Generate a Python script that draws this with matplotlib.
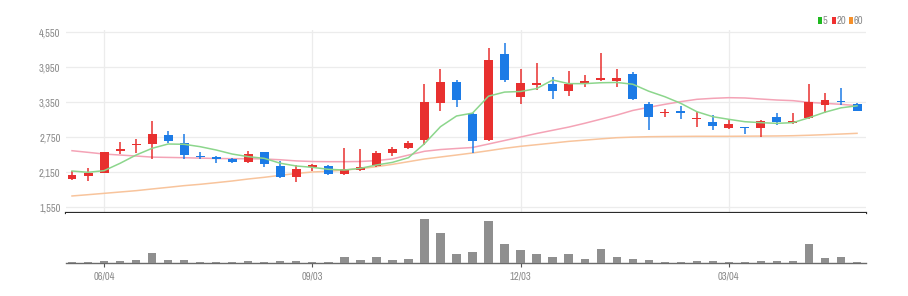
import matplotlib
matplotlib.use("Agg")
import matplotlib.pyplot as plt
from matplotlib.patches import Rectangle
from matplotlib import font_manager

# ---- data (weekly candles) ----
opens = [2035, 2087, 2138, 2515, 2607, 2625, 2789, 2652, 2424, 2402,
         2378, 2321, 2487, 2253, 2070, 2236, 2253, 2116, 2184, 2253,
         2470, 2561, 2698, 3328, 3688, 3144, 2698, 4173, 3441, 3636,
         3653, 3544, 3659, 3727, 3715, 3824, 3310, 3156, 3196, 3059,
         3012, 2904, 2927, 2904, 3088, 2990, 3081, 3299, 3373, 3316]
highs = [2162, 2213, 2500, 2659, 2721, 3029, 2853, 2806, 2493, 2424,
         2390, 2510, 2498, 2344, 2270, 2287, 2270, 2561, 2550, 2510,
         2584, 2681, 3658, 3916, 3727, 3156, 4270, 4356, 3910, 4013,
         3773, 3886, 3807, 4196, 3921, 3864, 3356, 3224, 3281, 3179,
         3127, 3059, 2927, 3041, 3156, 3156, 3658, 3509, 3584, 3339]
lows = [2013, 1996, 2130, 2453, 2470, 2368, 2652, 2368, 2368, 2299,
        2299, 2304, 2241, 2042, 1984, 2162, 2099, 2104, 2173, 2241,
        2424, 2539, 2613, 3196, 3259, 2481, 2687, 3698, 3316, 3556,
        3407, 3453, 3612, 3715, 3602, 3384, 2870, 3088, 3053, 2916,
        2870, 2893, 2801, 2744, 2956, 2973, 3053, 3167, 3299, 3190]
closes = [2104, 2133, 2493, 2550, 2636, 2806, 2687, 2436, 2402, 2378,
          2321, 2453, 2287, 2070, 2196, 2264, 2116, 2196, 2230, 2470,
          2544, 2642, 3350, 3688, 3384, 2687, 4070, 3727, 3670, 3676,
          3539, 3659, 3704, 3756, 3756, 3396, 3088, 3184, 3167, 3081,
          2939, 2973, 2904, 3030, 3001, 3019, 3344, 3384, 3350, 3201]
volumes = [70, 70, 170, 170, 270, 1000, 300, 270, 70, 70,
           70, 130, 70, 130, 130, 70, 70, 530, 270, 530,
           300, 400, 4370, 2930, 870, 1100, 4170, 1870, 1270, 830,
           570, 830, 330, 1330, 530, 330, 270, 70, 100, 130,
           200, 30, 30, 130, 200, 130, 1830, 470, 530, 70]
ma5 = [2167, 2145, 2173, 2299, 2441, 2556, 2630, 2625, 2584, 2527,
       2458, 2413, 2384, 2300, 2253, 2230, 2196, 2184, 2213, 2270,
       2315, 2395, 2635, 2927, 3110, 3160, 3450, 3520, 3530, 3580,
       3727, 3665, 3665, 3680, 3685, 3655, 3535, 3441, 3327, 3184,
       3098, 3053, 3012, 2996, 2984, 2996, 3080, 3175, 3250, 3285]
ma20 = [2515, 2487, 2458, 2441, 2424, 2405, 2400, 2395, 2388, 2382,
        2378, 2378, 2373, 2360, 2340, 2330, 2327, 2327, 2330, 2345,
        2375, 2440, 2505, 2535, 2553, 2570, 2630, 2690, 2750, 2810,
        2865, 2920, 2985, 3055, 3125, 3205, 3259, 3310, 3356, 3396,
        3413, 3424, 3419, 3401, 3384, 3373, 3344, 3327, 3310, 3287]
ma60 = [1739, 1761, 1784, 1807, 1830, 1859, 1887, 1916, 1939, 1967,
        1996, 2030, 2059, 2093, 2125, 2150, 2162, 2184, 2207, 2241,
        2281, 2327, 2373, 2407, 2441, 2476, 2515, 2556, 2590, 2618,
        2646, 2675, 2696, 2718, 2738, 2748, 2755, 2758, 2760, 2762,
        2762, 2762, 2764, 2766, 2768, 2772, 2780, 2790, 2801, 2813]
tick_pos = [2, 15, 28, 41]
tick_labels = ["06/04", "09/03", "12/03", "03/04"]
ytick_vals = [1550, 2150, 2750, 3350, 3950, 4550]
legend_labels = ["5", "20", "60"]

# ---- style ----
UP = "#e8302f"
DOWN = "#1c7be6"
C_MA5 = "#8cd68c"
C_MA20 = "#f4a3b6"
C_MA60 = "#f8c49c"
LEG_COLORS = ["#1fb91f", "#f03030", "#f5902a"]
GRID = "#ececec"
TXT = "#8a8a8a"

# pick a condensed face if one is installed, else a regular sans at smaller size
narrow = None
for f in font_manager.fontManager.ttflist:
    if ("Narrow" in f.name or "Condensed" in f.name) and f.style == "normal" \
            and f.weight in (400, "normal", "regular"):
        narrow = f.name
        break
if narrow:
    FONT = [narrow, "DejaVu Sans"]
    FS = 7.6
else:
    FONT = ["Liberation Sans", "DejaVu Sans"]
    FS = 6.2

W, H = 908, 296
fig = plt.figure(figsize=(W / 100, H / 100), dpi=100)

def fr(x0, y_top, x1, y_bot):
    return [x0 / W, 1 - y_bot / H, (x1 - x0) / W, (y_bot - y_top) / H]

ax = fig.add_axes(fr(66, 30, 866, 213))
axv = fig.add_axes(fr(66, 213, 866, 262.7), sharex=ax)

n = len(closes)
xs = list(range(n))
cols = [UP if c >= o else DOWN for o, c in zip(opens, closes)]
bottoms = [min(o, c) for o, c in zip(opens, closes)]
heights = [max(abs(c - o), 16) for o, c in zip(opens, closes)]

ax.vlines(xs, lows, highs, colors=cols, linewidth=1.1, zorder=3)
ax.bar(xs, heights, bottom=bottoms, width=0.56, color=cols, linewidth=0, zorder=4)

ax.plot(xs, ma60, color=C_MA60, lw=1.1, zorder=2)
ax.plot(xs, ma20, color=C_MA20, lw=1.1, zorder=2)
ax.plot(xs, ma5, color=C_MA5, lw=1.1, zorder=5)

ax.set_xlim(-0.375, 49.56)
ax.set_ylim(1550 - 6 * 600 / 35, 4550 + 2 * 600 / 35)
ax.set_yticks(ytick_vals)
ax.set_yticklabels([f"{v:,}" for v in ytick_vals], family=FONT, fontsize=FS, color=TXT)
ax.tick_params(axis="y", length=0, pad=4)
ax.tick_params(axis="x", length=0, labelbottom=False)
ax.set_xticks(tick_pos)
ax.grid(True, color=GRID, lw=0.9, zorder=0)
for s in ["top", "left", "right"]:
    ax.spines[s].set_visible(False)
ax.spines["bottom"].set_color("#2b2b2b")
ax.spines["bottom"].set_linewidth(1.6)
ax.set_axisbelow(True)

axv.bar(xs, volumes, width=0.52, color="#8f8f8f", linewidth=0, zorder=3)
axv.set_ylim(0, 4970)
axv.set_yticks([])
for s in ["top", "left", "right"]:
    axv.spines[s].set_visible(False)
axv.spines["bottom"].set_color("#6a6a6a")
axv.spines["bottom"].set_linewidth(1.0)
axv.set_xticks(tick_pos)
axv.set_xticklabels(tick_labels, family=FONT, fontsize=FS, color=TXT)
axv.tick_params(axis="x", length=3, width=0.8, color="#555555", pad=3)

# legend (top right)
leg_x = [818, 832, 849]
for lx, lab, col in zip(leg_x, legend_labels, LEG_COLORS):
    fig.patches.append(Rectangle((lx / W, 1 - 24 / H), 3.5 / W, 7 / H,
                                 transform=fig.transFigure, color=col, lw=0))
    fig.text((lx + 5) / W, 1 - 20.5 / H, lab, family=FONT, fontsize=FS,
             color=TXT, va="center", ha="left")

fig.savefig("out.png", dpi=100)
